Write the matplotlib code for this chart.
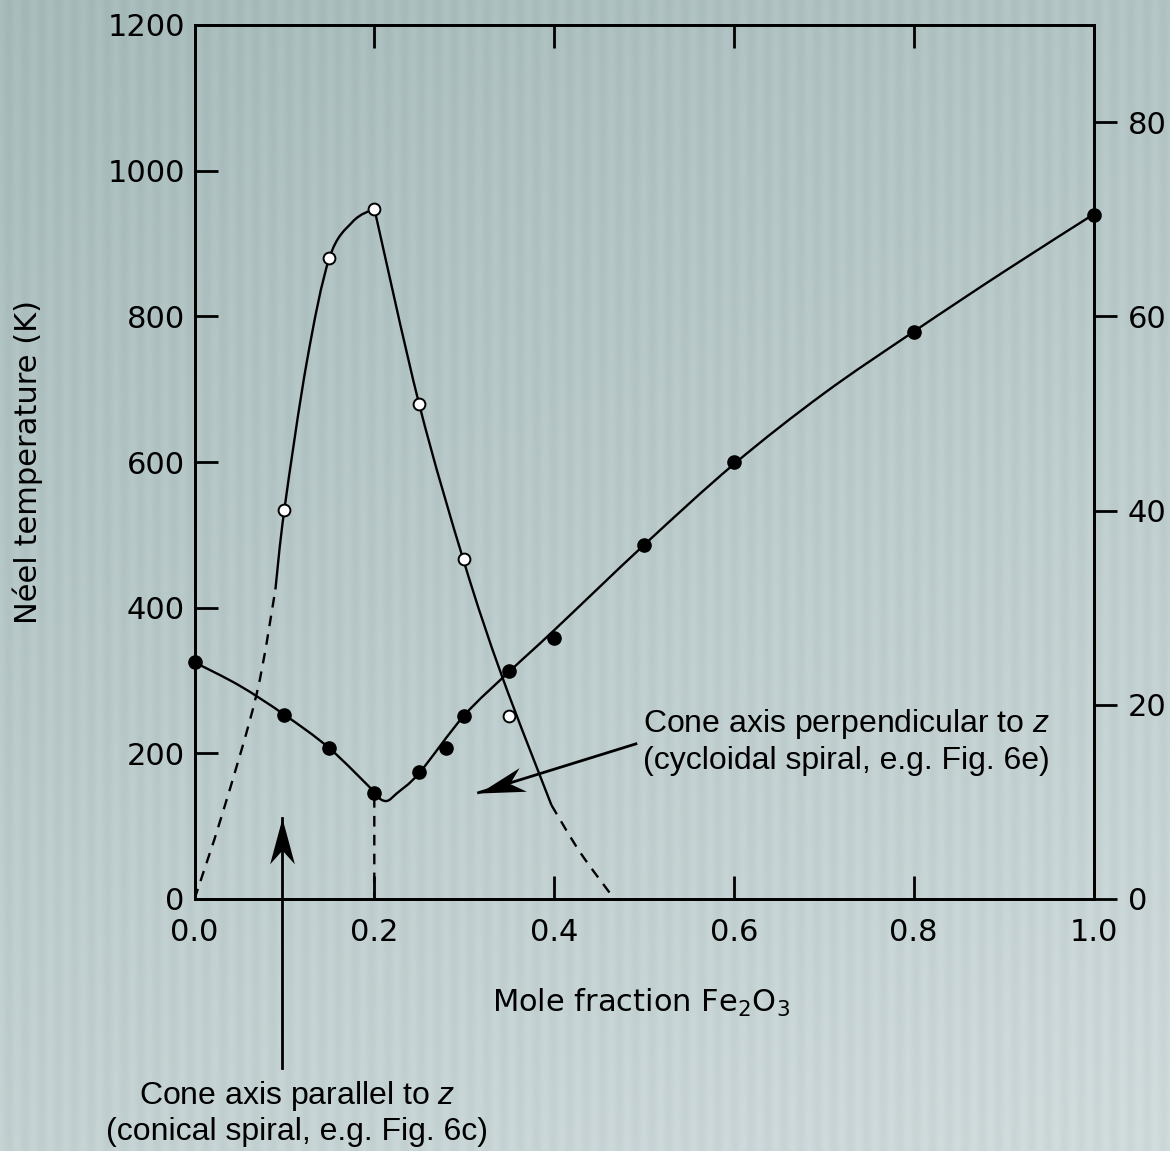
import matplotlib.pyplot as plt
import numpy as np
from matplotlib.path import Path
from matplotlib.patches import PathPatch

plt.rcParams['font.family'] = ['DejaVu Sans']
plt.rcParams['mathtext.fontset'] = 'custom'
plt.rcParams['mathtext.rm'] = 'DejaVu Sans'
plt.rcParams['mathtext.it'] = 'Liberation Sans:italic'

## measured data points
filled_x = [0.0, 0.1, 0.15, 0.2, 0.25, 0.28, 0.3, 0.35, 0.4, 0.5, 0.6, 0.8, 1.0]
filled_y = [325, 252, 207, 145, 174, 207, 251, 313, 358, 486, 600, 778, 939]
open_x = [0.1, 0.15, 0.2, 0.25, 0.3, 0.35]
open_y = [534, 880, 947, 680, 467, 251]

## lower boundary (solid)
lower_x = [0.0, 0.05, 0.1, 0.15, 0.2, 0.207, 0.215, 0.225,
           0.25, 0.3, 0.35, 0.4, 0.5, 0.6, 0.7, 0.8, 0.9, 1.0]
lower_y = [325, 293, 253, 207, 147, 137, 135, 145,
           173, 252, 312, 369, 486, 597, 694, 779, 861, 940]

## dome (solid part), left and right of the peak
dome_left_x = [0.09, 0.1, 0.125, 0.15, 0.176, 0.2]
dome_left_y = [425, 535, 738, 880, 930, 948]
dome_right_x = [0.2, 0.25, 0.3, 0.342, 0.397]
dome_right_y = [948, 679, 462, 306, 129]

## dashed extrapolations
dash_left_x = [0.0, 0.031, 0.069, 0.09]
dash_left_y = [0, 117, 281, 425]
dash_right_x = [0.397, 0.429, 0.467]
dash_right_y = [129, 64, 0]
dash_mid_x = [0.2, 0.2]
dash_mid_y = [140, 0]

x_ticks = [0.0, 0.2, 0.4, 0.6, 0.8, 1.0]
y_ticks = [0, 200, 400, 600, 800, 1000, 1200]
y2_ticks = [0, 20, 40, 60, 80]

## annotations (data coords)
arrow_par = [(0.097, -232), (0.097, 111)]
arrow_perp = [(0.491, 213), (0.316, 146)]
text_par = (0.114, -294)
text_perp = (0.499, 216)

W, H = 1170, 1151
fig = plt.figure(figsize=(W / 100, H / 100), dpi=100)
fig.patch.set_facecolor('none')

## background: soft gradient with vertical stripes
yy, xx = np.mgrid[0:H, 0:W]
t = 0.7 * yy / H + 0.3 * xx / W
c_top = np.array([166, 186, 186]) / 255.
c_bot = np.array([207, 218, 219]) / 255.
bg = c_top + (c_bot - c_top) * t[..., None]
bg = bg + (0.013 * np.cos(2 * np.pi * xx / 16.5))[..., None]
bg = np.clip(bg, 0, 1)
bgax = fig.add_axes([0, 0, 1, 1], zorder=-5)
bgax.imshow(bg, aspect='auto', interpolation='bilinear')
bgax.axis('off')

ax = fig.add_axes([194.5 / W, 1 - 899 / H, 899 / W, 874 / H])
ax.set_facecolor('none')
ax.set_xlim(0, 1)
ax.set_ylim(0, 1200)

lw = 1.7


def smooth_curve(ax, xs, ys, **kw):
    # catmull-rom through the read nodes, drawn as cubic bezier segments
    p = np.column_stack([xs, ys]).astype(float)
    ext = np.vstack([p[0], p, p[-1]])
    verts = [p[0]]
    codes = [Path.MOVETO]
    for i in range(1, len(ext) - 2):
        c1 = ext[i] + (ext[i + 1] - ext[i - 1]) / 6.
        c2 = ext[i + 1] - (ext[i + 2] - ext[i]) / 6.
        verts += [c1, c2, ext[i + 1]]
        codes += [Path.CURVE4] * 3
    ax.add_patch(PathPatch(Path(verts, codes), fill=False, **kw))


smooth_curve(ax, lower_x, lower_y, ec='k', lw=lw, zorder=3)
smooth_curve(ax, dome_left_x, dome_left_y, ec='k', lw=lw, zorder=3)
smooth_curve(ax, dome_right_x, dome_right_y, ec='k', lw=lw, zorder=3)
for dx, dy in [(dash_left_x, dash_left_y), (dash_right_x, dash_right_y), (dash_mid_x, dash_mid_y)]:
    smooth_curve(ax, dx, dy, ec='k', lw=lw, ls=(0, (4.5, 3.5)), zorder=3)

ax.plot(filled_x, filled_y, 'o', color='k', ms=9.5, zorder=5, clip_on=False)
ax.plot(open_x, open_y, 'o', mfc='white', mec='k', mew=1.4, ms=8.5, zorder=5, clip_on=False)

ax.set_xticks(x_ticks)
ax.set_xticklabels(['0.0', '0.2', '0.4', '0.6', '0.8', '1.0'])
ax.set_yticks(y_ticks)
ax.tick_params(axis='both', direction='in', length=16.5, width=2.0, labelsize=22)
ax.tick_params(axis='x', top=True, pad=14)
ax.tick_params(axis='y', pad=7)
for sp in ax.spines.values():
    sp.set_linewidth(2.0)

ax2 = ax.twinx()
ax2.set_ylim(0, 90)
ax2.set_yticks(y2_ticks)
ax2.tick_params(axis='y', direction='out', length=16.5, width=2.0, labelsize=22, pad=8)
for sp in ax2.spines.values():
    sp.set_linewidth(2.0)

ax.set_ylabel('Néel temperature (K)', fontsize=22)
ax.yaxis.set_label_coords(-0.168, 0.5)
ax.set_xlabel(r'Mole fraction Fe$_\mathrm{2}$O$_\mathrm{3}$', fontsize=22)
ax.xaxis.set_label_coords(0.497, -0.1)


def barb_arrow(ax, tail, tip, head_len=33, half_w=0.27):
    ax.plot([tail[0], tip[0]], [tail[1], tip[1]], color='k', lw=2.0, clip_on=False, zorder=4)
    p0 = ax.transData.transform(tail)
    p1 = ax.transData.transform(tip)
    ang = np.arctan2(p1[1] - p0[1], p1[0] - p0[0])
    verts = np.array([[0, 0], [-1, half_w], [-0.7, 0], [-1, -half_w], [0, 0]])
    c, s = np.cos(ang), np.sin(ang)
    rot = verts @ np.array([[c, s], [-s, c]])
    m = np.abs(rot).max()
    codes = [Path.MOVETO, Path.LINETO, Path.LINETO, Path.LINETO, Path.CLOSEPOLY]
    ax.plot([tip[0]], [tip[1]], marker=Path(rot, codes), ms=2 * head_len * m,
            color='k', mew=0, clip_on=False, zorder=4)


barb_arrow(ax, arrow_par[0], arrow_par[1])
barb_arrow(ax, arrow_perp[0], arrow_perp[1])

ax.text(text_par[0], text_par[1], 'Cone axis parallel to $z$\n(conical spiral, e.g. Fig. 6c)',
        family='Liberation Sans', fontsize=23, ha='center', va='center', multialignment='center')
ax.text(text_perp[0], text_perp[1], 'Cone axis perpendicular to $z$\n(cycloidal spiral, e.g. Fig. 6e)',
        family='Liberation Sans', fontsize=23, ha='left', va='center')

fig.savefig('out.png', dpi=100)
